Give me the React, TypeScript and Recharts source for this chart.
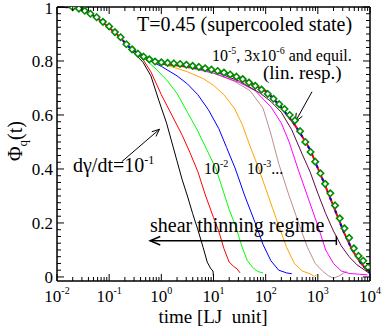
import { LineChart, Line, XAxis, YAxis, ReferenceLine } from "recharts";

// log10(time) and Phi_q(t)
const earlyLogT = [-2, -1.85, -1.7, -1.55, -1.4, -1.25, -1.1, -0.95, -0.8, -0.65];
const earlyPhi = [1.0, 1.0, 0.998, 0.99, 0.979, 0.962, 0.94, 0.915, 0.89, 0.857];

// dgamma/dt = 1e-1
const blackLogT = [-0.5, -0.35, -0.2, -0.05, 0.1, 0.2, 0.3, 0.4, 0.5, 0.6, 0.7, 0.8, 0.88, 0.95, 0.99, 1.0];
const blackPhi = [0.825, 0.795, 0.745, 0.655, 0.57, 0.5, 0.43, 0.36, 0.3, 0.235, 0.175, 0.11, 0.055, 0.03, 0.022, 0.0];

const redLogT = [-0.5, -0.35, -0.2, 0, 0.2, 0.4, 0.55, 0.7, 0.85, 1.0, 1.1, 1.2, 1.3, 1.38, 1.45, 1.51];
const redPhi = [0.832, 0.805, 0.76, 0.675, 0.6, 0.525, 0.46, 0.39, 0.3, 0.22, 0.17, 0.105, 0.055, 0.04, 0.03, 0.015];

// 1e-2
const greenLogT = [-0.5, -0.3, -0.1, 0.1, 0.3, 0.5, 0.7, 0.9, 1.05, 1.2, 1.3, 1.42, 1.55, 1.65, 1.75, 1.85, 1.95];
const greenPhi = [0.835, 0.805, 0.77, 0.73, 0.68, 0.61, 0.54, 0.46, 0.4, 0.31, 0.25, 0.19, 0.11, 0.06, 0.035, 0.02, 0.015];

const blueLogT = [-0.5, -0.3, 0, 0.3, 0.5, 0.7, 0.9, 1.1, 1.25, 1.42, 1.6, 1.8, 1.95, 2.1, 2.25, 2.4, 2.5];
const bluePhi = [0.835, 0.81, 0.78, 0.745, 0.715, 0.675, 0.62, 0.55, 0.48, 0.4, 0.3, 0.2, 0.12, 0.06, 0.025, 0.015, 0.012];

// 1e-3
const orangeLogT = [-0.5, -0.2, 0.1, 0.5, 0.8, 1.0, 1.2, 1.4, 1.55, 1.7, 1.87, 2.05, 2.25, 2.4, 2.55, 2.7, 2.85, 2.93, 2.98];
const orangePhi = [0.835, 0.8, 0.785, 0.76, 0.735, 0.71, 0.675, 0.625, 0.565, 0.485, 0.4, 0.3, 0.19, 0.11, 0.05, 0.022, 0.012, 0.002, 0.008];

const brownLogT = [-0.5, -0.2, 0.1, 0.5, 1.0, 1.4, 1.7, 1.95, 2.1, 2.25, 2.45, 2.65, 2.8, 2.95, 3.1, 3.2, 3.3, 3.42, 3.5, 3.56];
const brownPhi = [0.835, 0.805, 0.79, 0.775, 0.755, 0.725, 0.69, 0.625, 0.53, 0.42, 0.3, 0.19, 0.11, 0.05, 0.02, 0.005, -0.005, 0.005, 0.015, 0.02];

const magentaLogT = [-0.5, -0.2, 0.2, 0.6, 1.0, 1.5, 1.8, 2.1, 2.3, 2.45, 2.62, 2.8, 3.0, 3.15, 3.3, 3.45, 3.6, 3.8, 3.95];
const magentaPhi = [0.835, 0.805, 0.79, 0.775, 0.755, 0.72, 0.69, 0.63, 0.57, 0.5, 0.4, 0.3, 0.19, 0.1, 0.05, 0.022, 0.013, 0.01, 0.008];

const maroonLogT = [-0.5, -0.2, 0.2, 0.6, 1.0, 1.5, 1.9, 2.1, 2.3, 2.5, 2.7, 2.85, 3.0, 3.15, 3.3, 3.45, 3.6, 3.75, 3.9, 4.0];
const maroonPhi = [0.835, 0.805, 0.79, 0.78, 0.762, 0.725, 0.68, 0.65, 0.61, 0.545, 0.455, 0.39, 0.31, 0.235, 0.17, 0.115, 0.075, 0.045, 0.025, 0.012];

// 1e-5 and 3e-6 (red / blue dashed)
const slowLogT = [-0.5, -0.3, 0, 0.5, 1.0, 1.5, 1.77, 2.02, 2.28, 2.535, 2.664, 2.856, 2.985, 3.11, 3.3, 3.5, 3.66, 3.82, 4.0];
const slowPhi = [0.835, 0.812, 0.79, 0.78, 0.765, 0.738, 0.712, 0.686, 0.633, 0.57, 0.532, 0.47, 0.41, 0.353, 0.262, 0.165, 0.1, 0.052, 0.014];

// equilibrium (diamonds)
const equilLogT = [-1.7, -1.58, -1.47, -1.36, -1.24, -1.12, -1.0, -0.89, -0.78, -0.67, -0.56, -0.45, -0.34, -0.23, -0.12, 0.0, 0.12, 0.24, 0.36, 0.48, 0.6, 0.72, 0.84, 0.96, 1.08, 1.2, 1.32, 1.44, 1.56, 1.68, 1.8, 1.92, 2.04, 2.15, 2.26, 2.36, 2.46, 2.56, 2.66, 2.76, 2.86, 2.95, 3.05, 3.14, 3.24, 3.33, 3.42, 3.51, 3.6, 3.69, 3.78, 3.87, 3.96];
const equilPhi = [0.999, 0.994, 0.986, 0.975, 0.962, 0.945, 0.928, 0.907, 0.888, 0.862, 0.843, 0.827, 0.816, 0.806, 0.798, 0.795, 0.793, 0.791, 0.789, 0.786, 0.782, 0.778, 0.773, 0.768, 0.763, 0.757, 0.75, 0.742, 0.733, 0.72, 0.708, 0.694, 0.678, 0.66, 0.64, 0.622, 0.6, 0.58, 0.54, 0.5, 0.463, 0.427, 0.384, 0.345, 0.31, 0.265, 0.217, 0.18, 0.145, 0.106, 0.078, 0.06, 0.036];

const decades = [-2, -1, 0, 1, 2, 3, 4];
const minorLogT = decades.slice(0, -1).flatMap((d) => [2, 3, 4, 5, 6, 7, 8, 9].map((k) => d + Math.log10(k)));
const xTicks = [...decades, ...minorLogT];
const yTicks = Array.from({ length: 41 }, (_, i) => +(i * 0.025).toFixed(3));

const rows = (lt: number[], phi: number[]) => lt.map((x, i) => ({ lt: x, phi: phi[i] }));
const curve = (lt: number[], phi: number[]) => rows([...earlyLogT, ...lt], [...earlyPhi, ...phi]);

const curves = [
  { key: "black", color: "#000000", data: curve(blackLogT, blackPhi) },
  { key: "red", color: "#ff0000", data: curve(redLogT, redPhi) },
  { key: "green", color: "#00ff00", data: curve(greenLogT, greenPhi) },
  { key: "blue", color: "#0000ff", data: curve(blueLogT, bluePhi) },
  { key: "orange", color: "#ffa500", data: curve(orangeLogT, orangePhi) },
  { key: "brown", color: "#bc8f8f", data: curve(brownLogT, brownPhi) },
  { key: "magenta", color: "#ff00ff", data: curve(magentaLogT, magentaPhi) },
  { key: "maroon", color: "#670748", data: curve(maroonLogT, maroonPhi) },
];
const slowData = curve(slowLogT, slowPhi);
const equilData = rows(equilLogT, equilPhi);

const FONT = "'Liberation Serif', 'Times New Roman', serif";

const isMajorY = (v: number) => Math.abs(v * 5 - Math.round(v * 5)) < 1e-6;

const BottomTick = (p: any) => {
  const { x, y, payload } = p;
  const major = Number.isInteger(payload.value);
  return (
    <g>
      <line x1={x} x2={x} y1={y} y2={y - (major ? 7 : 4)} stroke="#000" />
      {major && (
        <text x={x} y={y + 21} textAnchor="middle" fontSize={17} style={{ fontFamily: FONT }} fill="#000">
          10
          <tspan fontSize={10} dy={-8}>
            {payload.value}
          </tspan>
        </text>
      )}
    </g>
  );
};

const TopTick = (p: any) => {
  const { x, y, payload } = p;
  const major = Number.isInteger(payload.value);
  return <line x1={x} x2={x} y1={y} y2={y + (major ? 7 : 4)} stroke="#000" />;
};

const LeftTick = (p: any) => {
  const { x, y, payload } = p;
  const major = isMajorY(payload.value);
  return (
    <g>
      <line x1={x} x2={x + (major ? 7 : 4)} y1={y} y2={y} stroke="#000" />
      {major && (
        <text x={x - 4} y={y + (payload.value === 1 ? 7 : 6)} textAnchor="end" fontSize={17} style={{ fontFamily: FONT }} fill="#000">
          {payload.value}
        </text>
      )}
    </g>
  );
};

const RightTick = (p: any) => {
  const { x, y, payload } = p;
  const major = isMajorY(payload.value);
  return <line x1={x} x2={x - (major ? 7 : 4)} y1={y} y2={y} stroke="#000" />;
};

const arrow = (atEnd: boolean, len: number, width: number) => (p: any) => {
  const { x1, y1, x2, y2 } = p;
  const [tx, ty, fx, fy] = atEnd ? [x2, y2, x1, y1] : [x1, y1, x2, y2];
  const a = Math.atan2(ty - fy, tx - fx);
  const h1 = `${tx - len * Math.cos(a - 0.4)},${ty - len * Math.sin(a - 0.4)}`;
  const h2 = `${tx - len * Math.cos(a + 0.4)},${ty - len * Math.sin(a + 0.4)}`;
  return (
    <g>
      <line x1={x1} y1={y1} x2={x2} y2={y2} stroke="#000" strokeWidth={width} />
      <polyline points={`${h1} ${tx},${ty} ${h2}`} fill="none" stroke="#000" strokeWidth={width} />
    </g>
  );
};

const renderDiamond = (p: any) => {
  const { cx, cy, index } = p;
  const r = 3.2;
  return (
    <path
      key={index}
      d={`M${cx},${cy - r}L${cx + r},${cy}L${cx},${cy + r}L${cx - r},${cy}Z`}
      fill="#fff"
      stroke="#008b00"
      strokeWidth={1.6}
    />
  );
};

const axisLine = { stroke: "#000", strokeWidth: 1.5 };

export default function App() {
  return (
    <div style={{ position: "absolute", left: 0, top: 0, width: 383, height: 327, background: "#fff" }}>
      <LineChart width={383} height={327} margin={{ top: 0, right: 0, bottom: 0, left: 0 }}>
        <XAxis
          type="number"
          dataKey="lt"
          domain={[-2, 4]}
          allowDataOverflow
          ticks={xTicks}
          interval={0}
          height={46}
          tickSize={0}
          tickMargin={0}
          tickLine={false}
          tick={<BottomTick />}
          axisLine={axisLine}
        />
        <XAxis
          xAxisId="top"
          orientation="top"
          type="number"
          dataKey="lt"
          domain={[-2, 4]}
          allowDataOverflow
          ticks={xTicks}
          interval={0}
          height={7}
          tickSize={0}
          tickMargin={0}
          tickLine={false}
          tick={<TopTick />}
          axisLine={axisLine}
        />
        <YAxis
          type="number"
          domain={[-0.015, 1]}
          allowDataOverflow
          ticks={yTicks}
          interval={0}
          width={57}
          tickSize={0}
          tickMargin={0}
          tickLine={false}
          tick={<LeftTick />}
          axisLine={axisLine}
        />
        <YAxis
          yAxisId="right"
          orientation="right"
          type="number"
          domain={[-0.015, 1]}
          allowDataOverflow
          ticks={yTicks}
          interval={0}
          width={13}
          tickSize={0}
          tickMargin={0}
          tickLine={false}
          tick={<RightTick />}
          axisLine={axisLine}
        />
        {curves.map((c) => (
          <Line
            key={c.key}
            data={c.data}
            dataKey="phi"
            type="linear"
            stroke={c.color}
            strokeWidth={1}
            dot={false}
            activeDot={false}
            isAnimationActive={false}
          />
        ))}
        <Line data={slowData} dataKey="phi" stroke="#ff0000" strokeWidth={2} dot={false} activeDot={false} isAnimationActive={false} />
        <Line data={slowData} dataKey="phi" stroke="#0000ff" strokeWidth={2} strokeDasharray="3 4" dot={false} activeDot={false} isAnimationActive={false} />
        <Line data={equilData} dataKey="phi" stroke="none" dot={renderDiamond} activeDot={false} isAnimationActive={false} />
        <ReferenceLine segment={[{ x: 2.888, y: 0.686 }, { x: 2.568, y: 0.575 }]} shape={arrow(true, 9, 1)} />
        <ReferenceLine segment={[{ x: -0.758, y: 0.427 }, { x: -0.036, y: 0.547 }]} shape={arrow(true, 8, 1)} />
        <ReferenceLine segment={[{ x: 3.355, y: 0.134 }, { x: -0.215, y: 0.134 }]} shape={arrow(true, 11, 1.5)} />
        <ReferenceLine segment={[{ x: 3.355, y: 0.152 }, { x: 3.355, y: 0.118 }]} stroke="#000" strokeWidth={1.5} />
      </LineChart>
      <svg width={383} height={327} style={{ position: "absolute", left: 0, top: 0, pointerEvents: "none", fontFamily: FONT }} fill="#000">
        <text x={137} y={31} fontSize={20}>T=0.45 (supercooled state)</text>
        <text x={212} y={61} fontSize={16}>
          10<tspan fontSize={10} dy={-7}>-5</tspan>
          <tspan dy={7}>, 3x10</tspan>
          <tspan fontSize={10} dy={-7}>-6</tspan>
          <tspan dy={7}> and equil.</tspan>
        </text>
        <text x={263} y={79} fontSize={19}>(lin. resp.)</text>
        <text x={73} y={172} fontSize={20}>
          dγ/dt=10<tspan fontSize={12} dy={-8}>-1</tspan>
        </text>
        <text x={204} y={174} fontSize={16}>
          10<tspan fontSize={10} dy={-7}>-2</tspan>
        </text>
        <text x={247} y={174} fontSize={16}>
          10<tspan fontSize={10} dy={-7}>-3</tspan>
          <tspan dy={7}>...</tspan>
        </text>
        <text x={150} y={232} fontSize={20}>shear thinning regime</text>
        <text x={213} y={323} fontSize={19} textAnchor="middle" style={{ whiteSpace: "pre" }}>time [LJ  unit]</text>
        <text transform="translate(22,141) rotate(-90)" fontSize={20} textAnchor="middle">
          Φ<tspan fontSize={13} dy={5}>q</tspan>
          <tspan dy={-5}>(t)</tspan>
        </text>
      </svg>
    </div>
  );
}
